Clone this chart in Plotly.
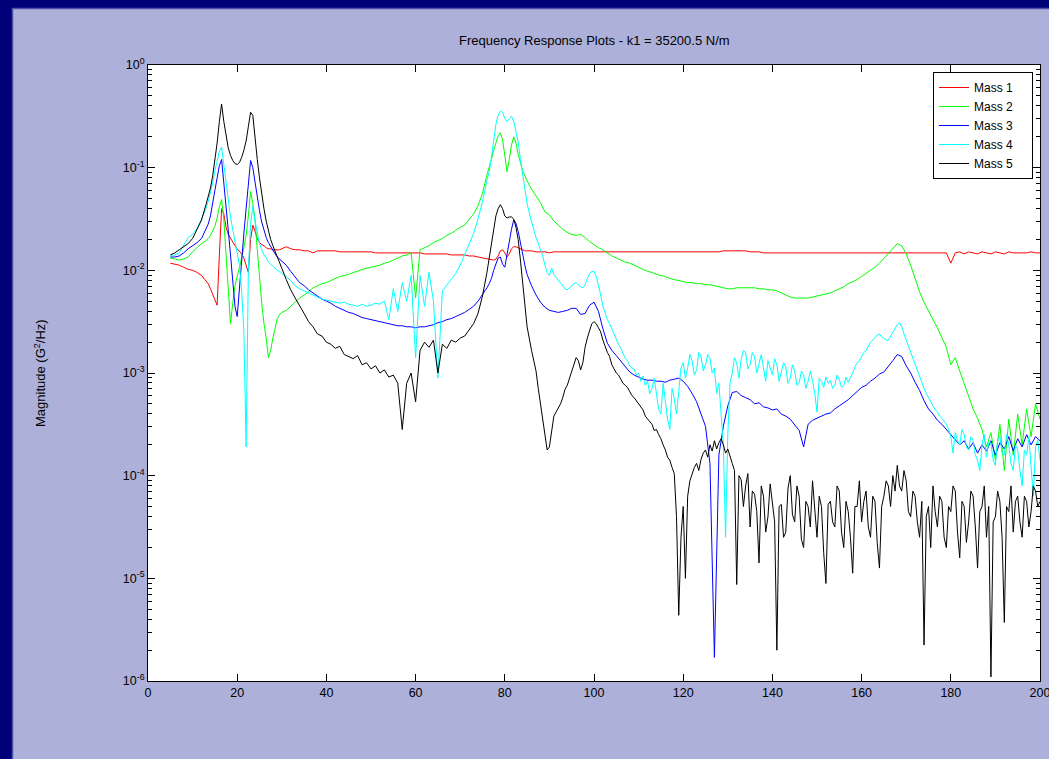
import plotly.graph_objects as go

# ---------------- data (frequency in Hz, magnitudes as log10 values) ----------------
freq_low = (list(range(5, 14))
            + [13.5 + 0.5 * i for i in range(34)]
            + list(range(31, 77))
            + [76.5 + 0.5 * i for i in range(18)])
freq_high = list(range(86, 201))                       # 1 Hz steps
freq_high_fine = [86 + 0.5 * i for i in range(229)]    # 0.5 Hz steps (Mass 4, Mass 5)

freq = freq_low + freq_high
freq_fine = freq_low + freq_high_fine

mass1_log10 = [
    -1.93, -1.94, -1.95, -1.97, -1.99, -2.00, -2.02, -2.05, -2.10,
    -2.13, -2.18, -2.24, -2.30, -2.34, -1.85, -1.40, -1.45, -1.58, -1.65, -1.69, -1.72, -1.76, -1.79, -1.81, -1.84, -1.88,
    -1.94, -2.02, -1.70, -1.56, -1.62, -1.69, -1.73, -1.75, -1.76, -1.78, -1.79, -1.79, -1.80, -1.80, -1.80, -1.80, -1.79,
    -1.77, -1.79, -1.80, -1.80, -1.81, -1.81, -1.83, -1.81, -1.81, -1.81,
    -1.81, -1.81, -1.82, -1.82, -1.82, -1.82, -1.82, -1.82, -1.82, -1.82,
    -1.83, -1.83, -1.83, -1.83, -1.83, -1.83, -1.83, -1.83, -1.83, -1.83,
    -1.83, -1.84, -1.84, -1.84, -1.84, -1.84, -1.84, -1.85, -1.85, -1.85,
    -1.85, -1.86, -1.86, -1.87, -1.88, -1.89,
    -1.89, -1.90, -1.90, -1.89, -1.86, -1.81, -1.80, -1.83, -1.87, -1.84, -1.79, -1.77, -1.77, -1.78, -1.79, -1.80, -1.81, -1.81,
    -1.81, -1.82, -1.82, -1.82, -1.83, -1.82, -1.82, -1.82, -1.82, -1.82,
    -1.82, -1.82, -1.82, -1.82, -1.82, -1.82, -1.82, -1.82, -1.82, -1.82,
    -1.82, -1.82, -1.82, -1.82, -1.82, -1.82, -1.82, -1.82, -1.82, -1.82,
    -1.82, -1.82, -1.82, -1.82, -1.82, -1.82, -1.82, -1.82, -1.82, -1.82,
    -1.82, -1.82, -1.82, -1.81, -1.81, -1.81, -1.81, -1.81, -1.81, -1.82,
    -1.82, -1.82, -1.83, -1.83, -1.83, -1.83, -1.83, -1.83, -1.83, -1.83,
    -1.83, -1.83, -1.83, -1.83, -1.83, -1.83, -1.83, -1.83, -1.83, -1.83,
    -1.83, -1.83, -1.83, -1.83, -1.83, -1.83, -1.83, -1.83, -1.83, -1.83,
    -1.83, -1.83, -1.83, -1.83, -1.83, -1.83, -1.83, -1.83, -1.83, -1.83,
    -1.83, -1.83, -1.83, -1.83, -1.93, -1.83, -1.82, -1.84, -1.82, -1.83,
    -1.84, -1.82, -1.83, -1.84, -1.82, -1.83, -1.84, -1.82, -1.83, -1.83,
    -1.83, -1.83, -1.82, -1.83, -1.83,
]

mass2_log10 = [
    -1.88, -1.89, -1.90, -1.89, -1.87, -1.82, -1.78, -1.74, -1.71,
    -1.69, -1.66, -1.62, -1.57, -1.49, -1.38, -1.31, -1.50, -1.85, -2.25, -2.52, -2.32, -2.15, -2.06, -1.98, -1.88, -1.78,
    -1.66, -1.47, -1.23, -1.35, -1.51, -1.80, -2.08, -2.32, -2.52, -2.66, -2.85, -2.78, -2.66, -2.55, -2.47, -2.43, -2.41,
    -2.39, -2.35, -2.31, -2.27, -2.24, -2.21, -2.17, -2.15, -2.13, -2.12,
    -2.10, -2.08, -2.06, -2.05, -2.04, -2.02, -2.01, -1.99, -1.98, -1.97,
    -1.96, -1.95, -1.93, -1.92, -1.90, -1.88, -1.86, -1.85, -1.83, -2.27,
    -1.80, -1.78, -1.76, -1.73, -1.71, -1.69, -1.66, -1.64, -1.61, -1.58,
    -1.56, -1.51, -1.45, -1.37, -1.25, -1.07,
    -1.00, -0.92, -0.83, -0.76, -0.69, -0.66, -0.73, -0.88, -1.04, -0.92, -0.78, -0.70, -0.76, -0.87, -0.96, -1.03, -1.08, -1.13,
    -1.21, -1.28, -1.34, -1.43, -1.46, -1.52, -1.56, -1.60, -1.63, -1.65,
    -1.66, -1.65, -1.68, -1.72, -1.75, -1.78, -1.80, -1.83, -1.86, -1.88,
    -1.90, -1.92, -1.93, -1.95, -1.97, -1.99, -2.01, -2.02, -2.04, -2.05,
    -2.06, -2.08, -2.09, -2.10, -2.11, -2.12, -2.12, -2.13, -2.13, -2.14,
    -2.14, -2.15, -2.16, -2.17, -2.18, -2.18, -2.17, -2.17, -2.17, -2.17,
    -2.17, -2.18, -2.18, -2.19, -2.19, -2.20, -2.22, -2.24, -2.26, -2.27,
    -2.27, -2.27, -2.27, -2.26, -2.25, -2.24, -2.23, -2.22, -2.20, -2.18,
    -2.16, -2.13, -2.11, -2.09, -2.06, -2.03, -2.00, -1.97, -1.93, -1.88,
    -1.84, -1.78, -1.74, -1.76, -1.84, -1.95, -2.08, -2.21, -2.31, -2.40,
    -2.48, -2.56, -2.65, -2.75, -2.92, -2.85, -2.98, -3.10, -3.22, -3.35,
    -3.44, -3.55, -3.72, -3.58, -3.85, -3.50, -3.95, -3.45, -3.80, -3.40,
    -3.70, -3.35, -3.62, -3.30, -3.45,
]

mass3_log10 = [
    -1.87, -1.87, -1.86, -1.83, -1.79, -1.76, -1.73, -1.69, -1.60,
    -1.55, -1.47, -1.36, -1.22, -1.10, -0.98, -0.92, -1.13, -1.38, -1.61, -1.85, -2.10, -2.35, -2.45, -2.15, -1.85, -1.64,
    -1.40, -1.15, -0.93, -1.00, -1.15, -1.30, -1.42, -1.53, -1.62, -1.68, -1.73, -1.77, -1.81, -1.84, -1.87, -1.89, -1.91,
    -1.95, -2.01, -2.06, -2.12, -2.15, -2.19, -2.22, -2.25, -2.28, -2.30,
    -2.32, -2.35, -2.37, -2.39, -2.41, -2.42, -2.44, -2.46, -2.47, -2.48,
    -2.49, -2.50, -2.51, -2.52, -2.53, -2.54, -2.54, -2.55, -2.55, -2.56,
    -2.55, -2.55, -2.54, -2.53, -2.51, -2.50, -2.48, -2.47, -2.45, -2.43,
    -2.41, -2.38, -2.35, -2.30, -2.24, -2.17,
    -2.13, -2.08, -2.00, -1.93, -1.88, -1.87, -1.94, -1.97, -1.84, -1.74, -1.60, -1.51, -1.54, -1.62, -1.74, -1.84, -1.95, -2.04,
    -2.15, -2.24, -2.31, -2.36, -2.39, -2.40, -2.41, -2.40, -2.39, -2.37,
    -2.37, -2.43, -2.42, -2.34, -2.31, -2.40, -2.57, -2.71, -2.78, -2.83,
    -2.88, -2.94, -2.99, -3.02, -3.04, -3.06, -3.07, -3.07, -3.08, -3.08,
    -3.09, -3.07, -3.06, -3.05, -3.08, -3.13, -3.20, -3.28, -3.40, -3.52,
    -3.88, -5.77, -3.80, -3.52, -3.32, -3.19, -3.18, -3.22, -3.24, -3.26,
    -3.30, -3.29, -3.33, -3.34, -3.36, -3.35, -3.40, -3.42, -3.45, -3.50,
    -3.56, -3.72, -3.50, -3.46, -3.44, -3.42, -3.40, -3.39, -3.35, -3.32,
    -3.29, -3.26, -3.22, -3.18, -3.14, -3.12, -3.08, -3.05, -3.01, -2.99,
    -2.94, -2.88, -2.82, -2.84, -2.93, -3.00, -3.09, -3.17, -3.27, -3.35,
    -3.40, -3.46, -3.50, -3.55, -3.59, -3.64, -3.70, -3.66, -3.74, -3.68,
    -3.78, -3.70, -3.76, -3.66, -3.80, -3.68, -3.74, -3.62, -3.76, -3.64,
    -3.72, -3.60, -3.70, -3.62, -3.66,
]

mass4_log10 = [
    -1.86, -1.85, -1.83, -1.75, -1.68, -1.65, -1.59, -1.50, -1.40,
    -1.33, -1.25, -1.15, -1.03, -0.93, -0.84, -0.80, -0.98, -1.17, -1.35, -1.48, -1.60, -1.71, -1.83, -1.95, -2.20, -2.60,
    -3.72, -2.00, -1.55, -1.38, -1.52, -1.64, -1.74, -1.80, -1.85, -1.88, -1.92, -1.94, -1.96, -1.98, -2.00, -2.01, -2.03,
    -2.06, -2.10, -2.15, -2.18, -2.20, -2.22, -2.24, -2.26, -2.28, -2.29,
    -2.30, -2.31, -2.32, -2.31, -2.33, -2.34, -2.35, -2.33, -2.35, -2.34,
    -2.32, -2.33, -2.30, -2.48, -2.18, -2.40, -2.12, -2.30, -2.05, -2.85,
    -2.05, -2.35, -2.02, -2.30, -3.05, -2.20, -2.14, -2.08, -2.03, -1.95,
    -1.85, -1.75, -1.64, -1.50, -1.33, -1.12,
    -1.04, -0.90, -0.73, -0.58, -0.49, -0.45, -0.46, -0.52, -0.55, -0.52, -0.50, -0.55, -0.65, -0.75, -0.92, -1.08, -1.22, -1.35,
    # 86 .. 200 Hz in 0.5 Hz steps
    -1.53, -1.61, -1.68, -1.74, -1.80, -1.86, -1.95, -2.02, -2.05, -1.98,
    -2.04, -2.07, -2.09, -2.12, -2.16, -2.18, -2.19, -2.17, -2.15, -2.13,
    -2.12, -2.14, -2.16, -2.17, -2.14, -2.08, -2.03, -2.01, -2.01, -2.06,
    -2.14, -2.24, -2.35, -2.42, -2.48, -2.52, -2.57, -2.62, -2.68, -2.72,
    -2.76, -2.82, -2.86, -2.88, -2.93, -2.95, -2.96, -3.02, -3.00, -3.08,
    -3.03, -3.12, -3.08, -3.20, -3.15, -3.05, -3.22, -3.35, -3.40, -3.10,
    -3.28, -3.45, -3.55, -3.15, -3.25, -3.40, -3.18, -2.95, -2.90, -3.05,
    -2.95, -2.82, -2.88, -3.02, -2.97, -2.80, -2.84, -2.98, -2.92, -2.82,
    -2.86, -3.00, -2.95, -3.20, -3.10, -3.40, -3.70, -4.60, -3.60, -3.10,
    -3.00, -2.85, -2.90, -3.05, -2.86, -2.78, -2.80, -2.96, -2.92, -2.80,
    -2.84, -3.00, -2.90, -2.82, -2.95, -3.08, -2.88, -2.96, -3.02, -2.86,
    -2.92, -3.08, -3.00, -2.90, -2.94, -3.10, -3.05, -2.92, -2.98, -3.12,
    -3.10, -2.98, -3.02, -3.15, -3.08, -2.98, -3.08, -3.20, -3.38, -3.05,
    -3.08, -3.14, -3.04, -3.10, -3.07, -3.15, -3.12, -3.02, -3.06, -3.14,
    -3.12, -3.04, -3.09, -3.05, -3.00, -2.94, -2.90, -2.88, -2.84, -2.80,
    -2.78, -2.74, -2.70, -2.68, -2.66, -2.63, -2.62, -2.65, -2.66, -2.68,
    -2.68, -2.64, -2.60, -2.56, -2.53, -2.51, -2.55, -2.62, -2.68, -2.74,
    -2.80, -2.86, -2.92, -2.98, -3.05, -3.10, -3.15, -3.20, -3.24, -3.28,
    -3.32, -3.36, -3.38, -3.42, -3.44, -3.47, -3.50, -3.55, -3.62, -3.78,
    -3.58, -3.66, -3.70, -3.55, -3.60, -3.72, -3.75, -3.62, -3.66, -3.80,
    -3.85, -3.95, -3.70, -3.60, -3.82, -3.68, -3.68, -3.85, -3.90, -3.65,
    -3.62, -3.78, -3.80, -3.60, -3.70, -3.88, -3.95, -3.70, -3.75, -3.95,
    -4.10, -3.75, -3.80, -3.62, -3.95, -4.20, -3.72, -3.65, -3.85,
]

mass5_log10 = [
    -1.85, -1.83, -1.80, -1.77, -1.74, -1.69, -1.60, -1.51, -1.36,
    -1.29, -1.20, -1.08, -0.93, -0.76, -0.55, -0.38, -0.55, -0.70, -0.81, -0.88, -0.93, -0.96, -0.97, -0.95, -0.90, -0.83,
    -0.74, -0.60, -0.46, -0.49, -0.72, -0.92, -1.10, -1.27, -1.40, -1.52, -1.62, -1.70, -1.76, -1.82, -1.88, -1.93, -1.98,
    -2.09, -2.19, -2.27, -2.34, -2.42, -2.50, -2.55, -2.62, -2.64, -2.70,
    -2.72, -2.76, -2.74, -2.82, -2.84, -2.86, -2.83, -2.92, -2.90, -2.96,
    -2.93, -3.00, -2.97, -3.04, -3.02, -3.10, -3.55, -3.10, -3.00, -3.28,
    -2.78, -2.70, -2.75, -2.68, -3.00, -2.72, -2.76, -2.68, -2.70, -2.66,
    -2.64, -2.58, -2.52, -2.42, -2.25, -2.02,
    -1.88, -1.72, -1.58, -1.47, -1.40, -1.36, -1.40, -1.47, -1.49, -1.48, -1.48, -1.50, -1.58, -1.70, -1.90, -2.12, -2.35, -2.55,
    # 86 .. 200 Hz in 0.5 Hz steps
    -2.78, -2.88, -2.98, -3.15, -3.30, -3.40, -3.55, -3.75, -3.72, -3.55,
    -3.42, -3.38, -3.34, -3.30, -3.24, -3.16, -3.12, -3.05, -2.98, -2.90,
    -2.85, -2.88, -2.97, -2.90, -2.75, -2.66, -2.58, -2.52, -2.50, -2.52,
    -2.56, -2.60, -2.68, -2.75, -2.80, -2.84, -2.92, -2.96, -3.00, -3.02,
    -3.06, -3.10, -3.12, -3.14, -3.18, -3.22, -3.24, -3.27, -3.30, -3.33,
    -3.36, -3.42, -3.45, -3.48, -3.50, -3.56, -3.55, -3.60, -3.64, -3.70,
    -3.75, -3.82, -3.85, -3.92, -3.98, -4.40, -5.36, -4.60, -4.30, -5.00,
    -4.20, -4.05, -3.98, -3.92, -3.88, -3.95, -3.84, -3.78, -3.75, -3.82,
    -3.70, -3.76, -3.66, -3.74, -3.68, -3.64, -3.70, -3.78, -3.74, -3.80,
    -3.88, -3.95, -5.06, -4.00, -4.04, -4.30, -4.10, -3.98, -4.50, -4.15,
    -4.18, -4.35, -4.85, -4.10, -4.20, -4.55, -4.40, -4.08, -4.25, -4.45,
    -5.70, -4.30, -4.28, -4.60, -4.55, -4.12, -4.00, -4.38, -4.45, -4.10,
    -4.20, -4.62, -4.70, -4.25, -4.30, -4.50, -4.05, -4.35, -4.60, -4.20,
    -4.30, -4.75, -5.05, -4.28, -4.25, -4.45, -4.50, -4.10, -4.15, -4.55,
    -4.70, -4.25, -4.35, -4.60, -4.95, -4.30, -4.30, -4.05, -4.45, -4.25,
    -4.15, -4.50, -4.60, -4.20, -4.25, -4.65, -4.90, -4.30, -4.20, -4.05,
    -4.10, -4.30, -4.00, -4.15, -3.90, -4.10, -4.15, -3.95, -4.05, -4.35,
    -4.40, -4.15, -4.20, -4.45, -4.60, -4.25, -5.65, -4.40, -4.30, -4.70,
    -4.10, -4.35, -4.50, -4.20, -4.25, -4.60, -4.70, -4.30, -4.35, -4.10,
    -4.15, -4.55, -4.80, -4.25, -4.30, -4.65, -4.45, -4.15, -4.20, -4.50,
    -4.90, -4.35, -4.30, -4.10, -4.60, -4.30, -5.96, -4.45, -4.40, -4.15,
    -4.25, -4.60, -5.43, -4.30, -4.35, -4.10, -4.55, -4.25, -4.20, -4.45,
    -4.60, -4.20, -4.25, -4.50, -4.35, -4.10, -4.15, -4.30, -4.25,
]

series_names = ["Mass 1", "Mass 2", "Mass 3", "Mass 4", "Mass 5"]
series_colors = ["#ff0000", "#00ff00", "#0000ff", "#00ffff", "#000000"]
series_freq = [freq, freq, freq, freq_fine, freq_fine]
series_log10 = [mass1_log10, mass2_log10, mass3_log10, mass4_log10, mass5_log10]

x_ticks = [0, 20, 40, 60, 80, 100, 120, 140, 160, 180, 200]
y_exponents = [-6, -5, -4, -3, -2, -1, 0]

title_text = "Frequency Response Plots - k1 = 35200.5 N/m"
ylabel_text = "Magnitude (G<sup>2</sup>/Hz)"

# ---------------- figure ----------------
W, H = 1049, 759
L, R, T, B = 148, 1040, 65, 681  # plot area in pixels

def px(xp):
    return (xp - L) / (R - L)

def py(yp):
    return (B - yp) / (B - T)

font_family = "Arial, Liberation Sans, Helvetica, sans-serif"

fig = go.Figure()
for name, color, fx, vals in zip(series_names, series_colors, series_freq, series_log10):
    assert len(vals) == len(fx), (name, len(vals), len(fx))
    fig.add_trace(go.Scatter(
        x=fx, y=[10 ** v for v in vals], mode="lines",
        name=name + "\u00a0\u00a0\u00a0\u00a0",
        line=dict(color=color, width=1),
    ))

major_y = [10.0 ** e for e in y_exponents]
minor_y = [m * 10.0 ** e for e in y_exponents[:-1] for m in range(2, 10)]

fig.update_layout(
    width=W, height=H, autosize=False,
    margin=dict(l=L, r=W - R, t=T, b=H - B, pad=0, autoexpand=False),
    paper_bgcolor="#adb0d8",
    plot_bgcolor="#ffffff",
    font=dict(family=font_family, size=12, color="#000000"),
    showlegend=True,
    legend=dict(
        x=px(1033), y=py(72), xanchor="right", yanchor="top",
        bgcolor="#ffffff", bordercolor="#000000", borderwidth=1,
        font=dict(family=font_family, size=12, color="#000000"),
        tracegroupgap=0, itemwidth=30,
    ),
    xaxis=dict(
        range=[0, 200], tickmode="array", tickvals=x_ticks,
        ticks="inside", ticklen=7, tickwidth=1, tickcolor="#000000",
        showline=True, linecolor="#000000", linewidth=1, mirror="allticks",
        showgrid=False, zeroline=False, ticklabeloverflow="allow",
        automargin=False, tickfont=dict(size=12.5),
    ),
    yaxis=dict(
        type="log", range=[-6, 0], tickmode="array", tickvals=major_y,
        ticktext=["10<sup>%d</sup>" % e for e in y_exponents],
        ticks="inside", ticklen=7, tickwidth=1, tickcolor="#000000",
        showline=True, linecolor="#000000", linewidth=1, mirror="allticks",
        showgrid=False, zeroline=False, automargin=False, tickfont=dict(size=12.5),
        minor=dict(tickmode="array", tickvals=minor_y, ticks="inside",
                   ticklen=4, tickwidth=1, tickcolor="#000000", showgrid=False),
    ),
)

fig.add_annotation(text=title_text, xref="paper", yref="paper",
                   x=px(594), y=py(40), xanchor="center", yanchor="middle",
                   showarrow=False, font=dict(size=13, color="#000000"))
fig.add_annotation(text=ylabel_text, xref="paper", yref="paper",
                   x=px(40), y=py(373), xanchor="center", yanchor="middle",
                   textangle=-90, showarrow=False, font=dict(size=13, color="#000000"))

# dark frame on top and left edges of the slide background
fig.add_shape(type="rect", xref="paper", yref="paper",
              x0=px(0), x1=px(W), y0=py(8), y1=py(0),
              fillcolor="#000078", line=dict(width=0), layer="above")
fig.add_shape(type="rect", xref="paper", yref="paper",
              x0=px(0), x1=px(12), y0=py(H), y1=py(0),
              fillcolor="#000078", line=dict(width=0), layer="above")
fig.add_shape(type="line", xref="paper", yref="paper",
              x0=px(12.5), x1=px(W), y0=py(8.5), y1=py(8.5),
              line=dict(color="#4b4fa6", width=1.5), layer="above")
fig.add_shape(type="line", xref="paper", yref="paper",
              x0=px(12.5), x1=px(12.5), y0=py(H), y1=py(8.5),
              line=dict(color="#4b4fa6", width=1.5), layer="above")

page_fix = ("document.documentElement.style.overflow='hidden';"
            "document.body.style.overflow='hidden';"
            "document.body.style.margin='0';")

fig.write_html("out.html", config={"responsive": False, "displayModeBar": False},
               post_script=page_fix)
